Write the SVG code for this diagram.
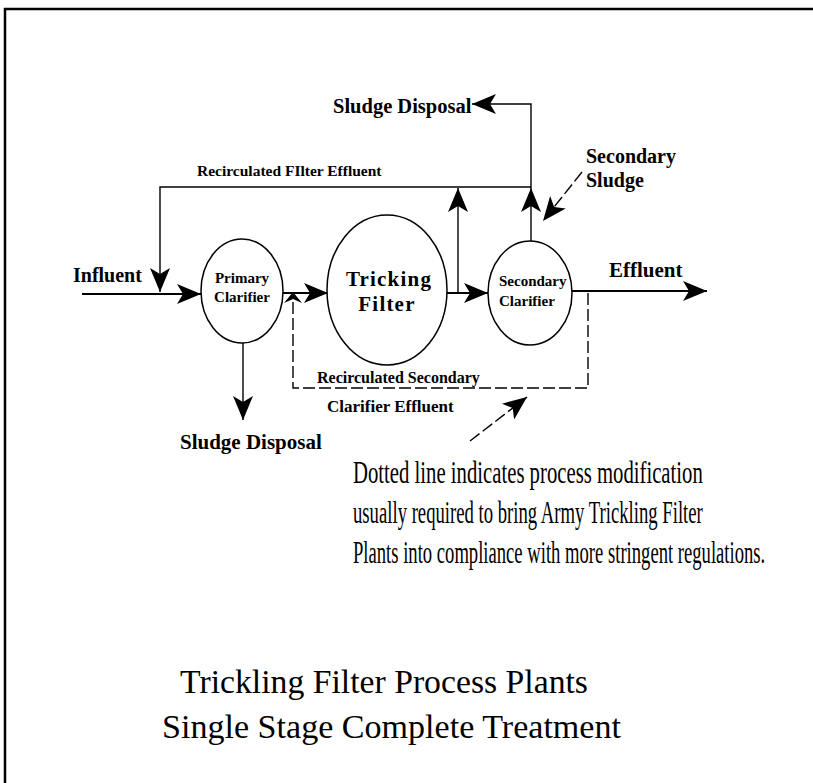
<svg xmlns="http://www.w3.org/2000/svg" width="813" height="783" viewBox="0 0 813 783">
<style>
  .ln{fill:none;stroke:#000;stroke-width:1.4}
  .fl{fill:none;stroke:#000;stroke-width:2}
  .ds{fill:none;stroke:#000;stroke-width:1.4;stroke-dasharray:12 4}
  .nd{fill:#fff;stroke:#000;stroke-width:1.5}
  .b{font-family:"Liberation Serif","Times New Roman",serif;font-weight:bold;fill:#000}
  .r{font-family:"Liberation Serif","Times New Roman",serif;fill:#000}
  .ah{fill:#000}
</style>
<defs>
  <marker id="arr" markerUnits="userSpaceOnUse" viewBox="0 0 24 20" refX="24" refY="10" markerWidth="24" markerHeight="20" orient="auto">
    <path d="M0,0 L24,10 L0,20 L6,10 Z" class="ah"/>
  </marker>
</defs>
<rect width="813" height="783" fill="#fff"/>
<g id="border">
  <path d="M5,783 V9 H813" fill="none" stroke="#000" stroke-width="2.5"/>
</g>
<g id="connectors">
  <path class="fl" d="M82,294 H201" marker-end="url(#arr)"/>
  <path class="ln" d="M531,187 H160 V292" marker-end="url(#arr)"/>
  <path class="fl" d="M283,293 H328" marker-end="url(#arr)"/>
  <path class="fl" d="M447,293 H488" marker-end="url(#arr)"/>
  <path class="ln" d="M458,293 V188" marker-end="url(#arr)"/>
  <path class="ln" d="M531,241 V188" marker-end="url(#arr)"/>
  <path class="ln" d="M531,188 V104 H472" marker-end="url(#arr)"/>
  <path class="fl" d="M572,291 H707" marker-end="url(#arr)"/>
  <path class="ln" d="M243,343 V420" marker-end="url(#arr)"/>
  <path class="ds" d="M293,302 V388 H588 V291"/>
  <polygon class="ah" points="293,292 302,303 293,299 284,303"/>
  <path class="ds" d="M582,172 L543,221" marker-end="url(#arr)"/>
  <path class="ds" d="M470,441 L527,397" marker-end="url(#arr)"/>
</g>
<g id="primary-clarifier">
  <ellipse class="nd" cx="242" cy="291" rx="41" ry="52"/>
  <text class="b" font-size="15" text-anchor="middle" x="242" y="283">Primary</text>
  <text class="b" font-size="15" text-anchor="middle" x="242" y="302">Clarifier</text>
</g>
<g id="trickling-filter">
  <ellipse class="nd" cx="387" cy="290" rx="60" ry="75"/>
  <text class="b" font-size="21" letter-spacing="1.2" text-anchor="middle" x="389" y="286">Tricking</text>
  <text class="b" font-size="21" letter-spacing="1.2" text-anchor="middle" x="387" y="311">Filter</text>
</g>
<g id="secondary-clarifier">
  <ellipse class="nd" cx="530" cy="293" rx="42" ry="52"/>
  <text class="b" font-size="15" x="499" y="286">Secondary</text>
  <text class="b" font-size="15" x="499" y="306">Clarifier</text>
</g>
<g id="labels">
  <text class="b" font-size="20" x="73" y="282">Influent</text>
  <text class="b" font-size="21" x="609" y="277">Effluent</text>
  <text class="b" font-size="15.5" x="197" y="176">Recirculated FIlter Effluent</text>
  <text class="b" font-size="20.5" x="333" y="113">Sludge Disposal</text>
  <text class="b" font-size="20" x="586" y="163">Secondary</text>
  <text class="b" font-size="20" x="586" y="187">Sludge</text>
  <text class="b" font-size="21" x="180" y="449">Sludge Disposal</text>
  <text class="b" font-size="16" x="317" y="383">Recirculated Secondary</text>
  <text class="b" font-size="17" x="327" y="412">Clarifier Effluent</text>
</g>
<g id="note">
  <text class="r" font-size="31" transform="translate(353,483) scale(0.6,1)" textLength="583" lengthAdjust="spacingAndGlyphs">Dotted line indicates process modification</text>
  <text class="r" font-size="31" transform="translate(353,523) scale(0.6,1)" textLength="583" lengthAdjust="spacingAndGlyphs">usually required to bring Army Trickling Filter</text>
  <text class="r" font-size="31" transform="translate(353,563) scale(0.6,1)" textLength="687" lengthAdjust="spacingAndGlyphs">Plants into compliance with more stringent regulations.</text>
</g>
<g id="title">
  <text class="r" font-size="34" x="180" y="693" textLength="408" lengthAdjust="spacingAndGlyphs">Trickling Filter Process Plants</text>
  <text class="r" font-size="34" x="162" y="738" textLength="459" lengthAdjust="spacingAndGlyphs">Single Stage Complete Treatment</text>
</g>
</svg>
